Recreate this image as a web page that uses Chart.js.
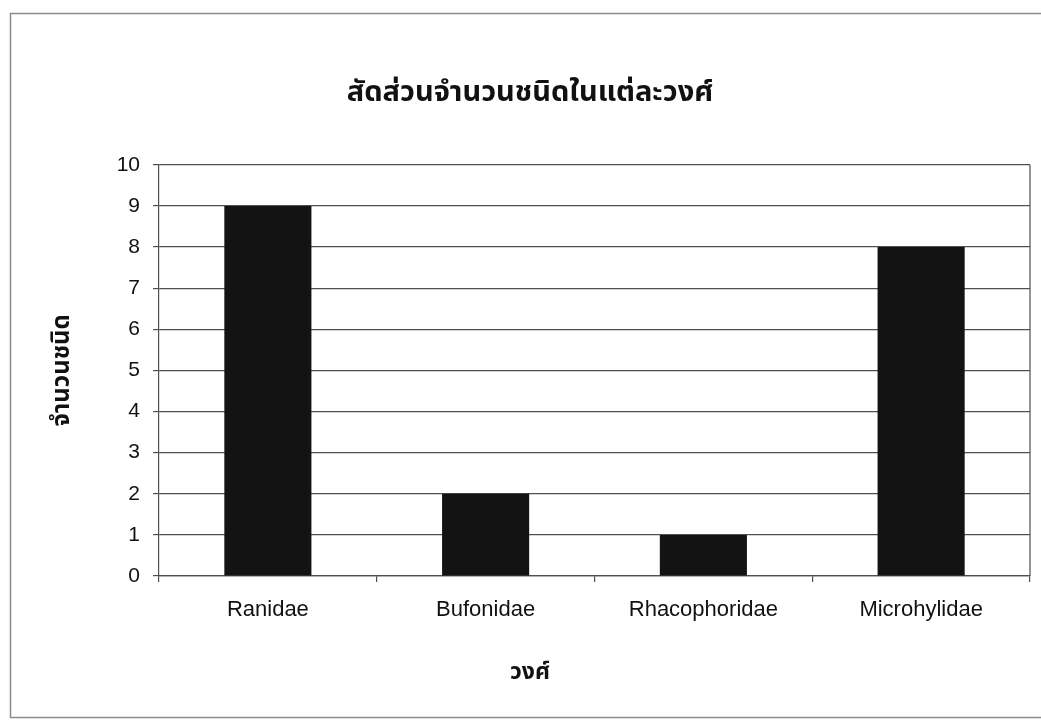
<!DOCTYPE html>
<html>
<head>
<meta charset="utf-8">
<script src="https://cdn.jsdelivr.net/npm/chart.js@4.4.1/dist/chart.umd.min.js"></script>
<style>
  html, body { margin: 0; padding: 0; background: #ffffff; }
  #wrap { width: 1041px; height: 721px; position: relative; }
</style>
</head>
<body>
<div id="wrap"><canvas id="c" width="1041" height="721"></canvas></div>
<script>
// Frog families and number of species recorded in each
const families = ['Ranidae', 'Bufonidae', 'Rhacophoridae', 'Microhylidae'];
const speciesCount = [9, 2, 1, 8];
const yTicks = [0, 1, 2, 3, 4, 5, 6, 7, 8, 9, 10];

const chartTitle = 'สัดส่วนจำนวนชนิดในแต่ละวงศ์';
const yTitle = 'จำนวนชนิด';
const xTitle = 'วงศ์';

const thaiFont = "'Noto Sans Thai', 'Noto Sans', 'DejaVu Sans', sans-serif";
const tickFont = "'Liberation Sans', Arial, sans-serif";

// Sheet frame, right edge of the plot area, and the category-axis caption
// (the caption is centred on the whole sheet, like the main title)
const framePlugin = {
  id: 'frame',
  afterLayout(chart) {
    const t = chart.titleBlock;
    if (t) { t.left += 10; t.right += 10; }
  },
  beforeDraw(chart) {
    const ctx = chart.ctx;
    ctx.save();
    ctx.fillStyle = '#ffffff';
    ctx.fillRect(0, 0, chart.width, chart.height);
    ctx.strokeStyle = '#8c8c8c';
    ctx.lineWidth = 1.5;
    ctx.strokeRect(10.5, 13.5, chart.width, chart.height - 17);
    ctx.restore();
  },
  afterDraw(chart) {
    const a = chart.chartArea;
    const ctx = chart.ctx;
    ctx.save();
    ctx.strokeStyle = '#505050';
    ctx.lineWidth = 1.2;
    ctx.beginPath();
    ctx.moveTo(a.right, a.top);
    ctx.lineTo(a.right, a.bottom);
    ctx.stroke();

    const t = chart.titleBlock;
    const cx = (t.left + t.right) / 2;
    ctx.fillStyle = '#111111';
    ctx.font = "bold 23px " + thaiFont;
    ctx.textAlign = 'center';
    ctx.textBaseline = 'middle';
    ctx.fillText(xTitle, cx, 674);
    ctx.restore();
  }
};

new Chart(document.getElementById('c'), {
  type: 'bar',
  data: {
    labels: families,
    datasets: [{
      data: speciesCount,
      backgroundColor: '#131313',
      borderWidth: 0,
      barPercentage: 0.8,
      categoryPercentage: 0.5
    }]
  },
  options: {
    responsive: false,
    animation: false,
    layout: { padding: { left: 10, right: 11, top: 0, bottom: 0 } },
    plugins: {
      legend: { display: false },
      tooltip: { enabled: false },
      title: {
        display: true,
        text: chartTitle,
        color: '#111111',
        font: { family: thaiFont, size: 29, weight: 'bold', lineHeight: 1.2 },
        padding: { top: 78, bottom: 52 }
      }
    },
    scales: {
      x: {
        offset: true,
        grid: {
          display: true,
          offset: true,
          drawOnChartArea: false,
          drawTicks: true,
          tickLength: 6,
          color: '#505050',
          lineWidth: 1.2
        },
        border: { display: true, color: '#505050', width: 1.2 },
        ticks: {
          color: '#111111',
          padding: 15,
          maxRotation: 0,
          font: { family: tickFont, size: 22, lineHeight: 1.2 }
        },
        title: { display: false },
        afterFit(scale) { scale.height = 721 - 576; }
      },
      y: {
        min: 0,
        max: 10,
        afterBuildTicks(scale) { scale.ticks = yTicks.map(v => ({ value: v })); },
        grid: {
          color: '#505050',
          lineWidth: 1.2,
          drawTicks: true,
          tickLength: 6
        },
        border: { display: true, color: '#505050', width: 1.2 },
        ticks: {
          color: '#111111',
          padding: 13,
          font: { family: tickFont, size: 21 }
        },
        title: {
          display: true,
          text: yTitle,
          color: '#111111',
          font: { family: thaiFont, size: 24, weight: 'bold', lineHeight: 1.2 },
          padding: { top: 40, bottom: 0 }
        },
        afterFit(scale) { scale.width = 159 - 10; }
      }
    }
  },
  plugins: [framePlugin]
});
</script>
</body>
</html>
